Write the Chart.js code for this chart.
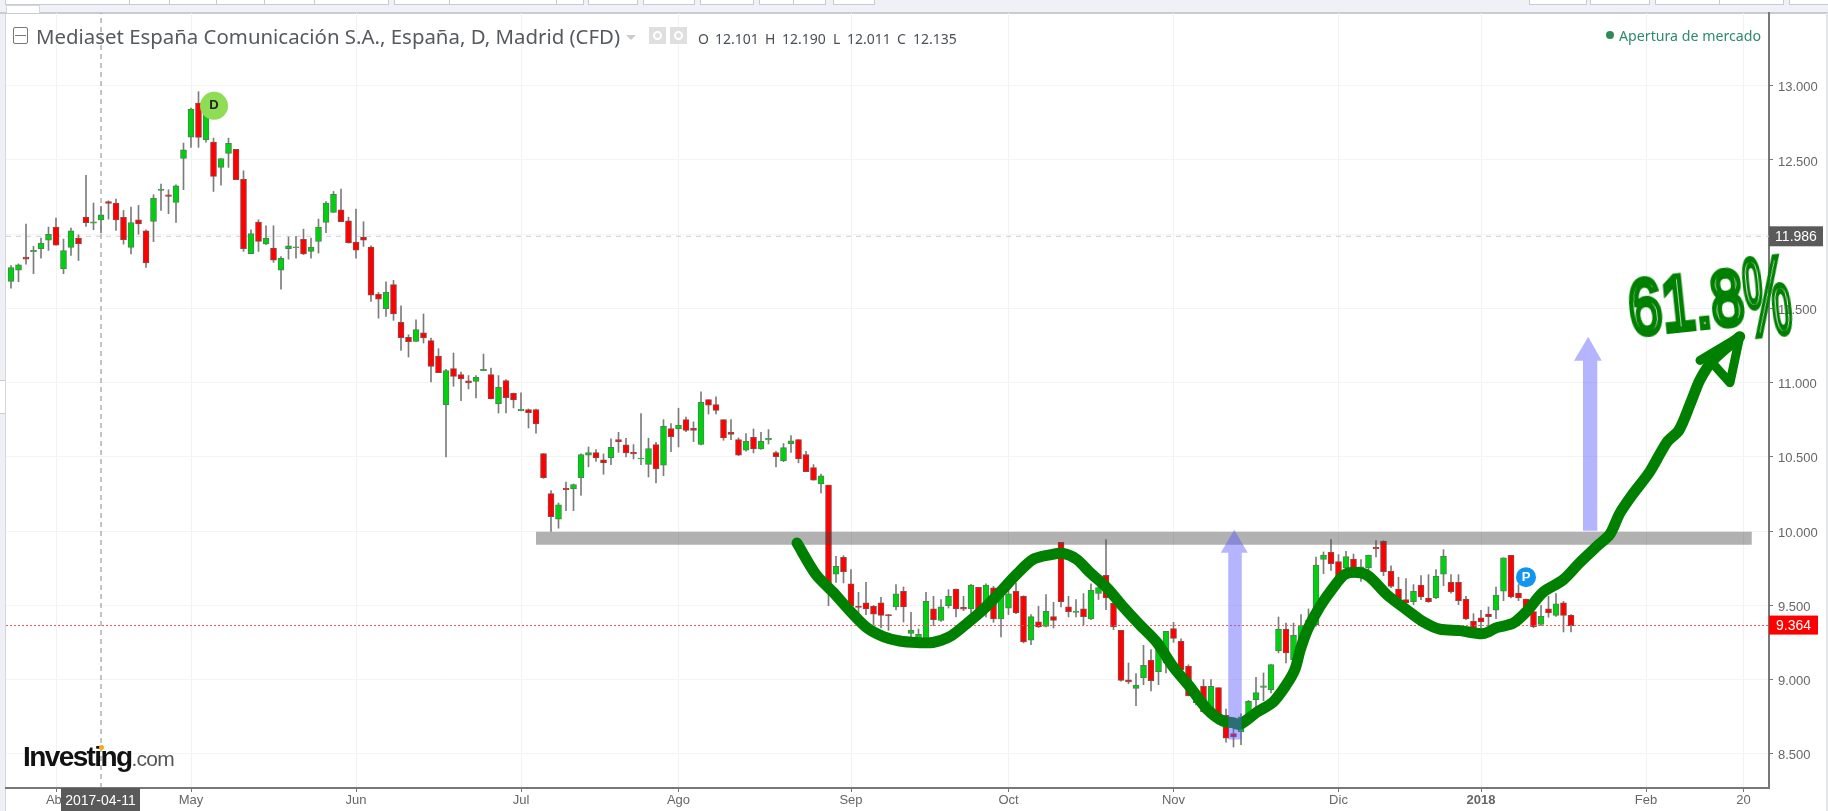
<!DOCTYPE html>
<html lang="es">
<head>
    <meta charset="UTF-8">
    <title>Mediaset España Comunicación S.A.</title>
    <script src="https://cdn.jsdelivr.net/npm/chart.js"></script>
    <style>
        html, body {
            margin: 0;
            width: 1828px;
            height: 811px;
            overflow: hidden;
            background: #ffffff;
        }
        body, div, span { position: absolute; }
        #leftStrip { left: 0; top: 0; width: 5px; height: 811px; background: #eef0f5; border-right: 1px solid #d4d6dc; }
        #leftHandle { left: 0; top: 380px; width: 5px; height: 32px; background: #fff; border-top: 1px solid #ccc; border-bottom: 1px solid #ccc; }
        #topStrip { left: 0; top: 0; width: 1828px; height: 12px; background: #f0f1f6; border-bottom: 2px solid #c9cbd2; }
        #rightEdge { left: 1826px; top: 13px; width: 2px; height: 798px; background: #e4e5ea; }
        .tool { top: 0; height: 4px; background: #fff; border: 1px solid #c8cad0; border-top: 0; box-sizing: content-box; }
        #tabUp { left: 6px; top: 5px; width: 32px; height: 7px; background: #fff; border: 1px solid #d4d6dc; border-bottom: 0; }
        canvas { position: absolute; left: 0; top: 0; }
        .head { font-family: "Noto Sans", sans-serif; white-space: nowrap; }
        #title { left: 36px; top: 22px; font-size: 20.4px; color: #56595e; }
        .ohlc { top: 29px; font-size: 14px; color: #4a5058; }
        #market { left: 1619px; top: 26px; font-size: 14.2px; color: #2e8b6a; }
        #marketDot { left: 1606px; top: 31px; width: 8px; height: 8px; border-radius: 50%; background: #2e8b57; }
        #collapse { left: 13px; top: 27px; width: 13px; height: 15px; border: 1px solid #777; border-radius: 2px; }
        #collapse i { position: absolute; left: 1px; top: 7px; width: 11px; height: 1px; background: #777; }
        #caret { left: 626px; top: 35px; width: 0; height: 0; border-left: 5px solid transparent; border-right: 5px solid transparent; border-top: 5px solid #ccc; }
        .iconBox { top: 27px; width: 17px; height: 17px; background: #dfdfdf; }
        .iconBox i { position: absolute; left: 4px; top: 4px; width: 5px; height: 5px; border: 2px solid #fff; border-radius: 50%; }
        #logo { left: 23px; top: 741px; font-family: "Liberation Sans", Arial, sans-serif; font-size: 28px; font-weight: bold; color: #111; letter-spacing: -1.6px; white-space: nowrap; }
        #logo span { position: static; font-size: 21px; font-weight: normal; color: #555; letter-spacing: -0.8px; }
        #logoDot { left: 99px; top: 745px; width: 5px; height: 5px; border-radius: 50%; background: #f9a81b; }
        #handNote {
            left: 1628px; top: 258px; font-family: "Liberation Sans", Arial, sans-serif; font-size: 78px; line-height: 78px;
            color: transparent; -webkit-text-stroke: 6px #008000; white-space: nowrap;
            transform-origin: left center; transform: rotate(-6deg) scaleX(0.76);
        }
        #handNote span {
            position: static; display: inline-block; font-size: 112px; line-height: 78px;
            transform-origin: left center; transform: scaleX(0.62) translateY(14px);
        }
    </style>
</head>
<body>
    <div id="leftStrip"></div>
    <div id="leftHandle"></div>
    <div id="topStrip"></div>
    <div id="rightEdge"></div>
    <div id="tabUp"></div>
    <canvas id="priceChart" width="1828" height="811"></canvas>

    <div id="collapse"><i></i></div>
    <div id="title" class="head">Mediaset España Comunicación S.A., España, D, Madrid (CFD)</div>
    <div id="caret"></div>
    <div class="iconBox" style="left:649px"><i></i></div>
    <div class="iconBox" style="left:670px"><i></i></div>
    <span class="head ohlc" style="left:698px">O</span><span class="head ohlc" style="left:715px">12.101</span>
    <span class="head ohlc" style="left:765px">H</span><span class="head ohlc" style="left:782px">12.190</span>
    <span class="head ohlc" style="left:833px">L</span><span class="head ohlc" style="left:847px">12.011</span>
    <span class="head ohlc" style="left:897px">C</span><span class="head ohlc" style="left:913px">12.135</span>
    <div id="marketDot"></div>
    <div id="market" class="head">Apertura de mercado</div>
    <div id="logo">Investing<span>.com</span></div>
    <div id="logoDot"></div>
    <div id="handNote">61.8<span>%</span></div>

    <script>
        // daily candles (x is the candle number)
        const opens = [
            11.682, 11.758, 11.846, 11.882, 11.902, 11.96, 12.048, 11.767, 11.911, 11.974,
            12.115, 12.075, 12.097, 12.219, 12.21, 12.113, 11.911, 12.097, 12.023, 12.086,
            12.295, 12.266, 12.214, 12.51, 12.654, 12.883, 12.636, 12.62, 12.45, 12.544,
            12.571, 12.369, 11.869, 12.082, 11.934, 11.907, 11.758, 11.902, 11.909, 11.965,
            11.884, 11.951, 12.079, 12.147, 12.165, 12.091, 11.947, 11.981, 11.913, 11.595,
            11.498, 11.66, 11.406, 11.305, 11.278, 11.335, 11.283, 11.18, 10.85, 11.095,
            11.054, 11.012, 11.009, 11.081, 11.054, 10.859, 11.014, 10.929, 10.812, 10.819,
            10.819, 10.522, 10.253, 10.08, 10.289, 10.284, 10.361, 10.511, 10.529, 10.48,
            10.495, 10.617, 10.581, 10.531, 10.486, 10.45, 10.583, 10.444, 10.691, 10.688,
            10.751, 10.693, 10.585, 10.886, 10.852, 10.751, 10.666, 10.617, 10.545, 10.632,
            10.554, 10.614, 10.529, 10.473, 10.587, 10.617, 10.516, 10.428, 10.318, 10.311,
            9.711, 9.824, 9.646, 9.496, 9.518, 9.494, 9.518, 9.438, 9.489, 9.595,
            9.312, 9.27, 9.28, 9.476, 9.399, 9.498, 9.61, 9.487, 9.476, 9.622,
            9.482, 9.619, 9.408, 9.482, 9.595, 9.561, 9.265, 9.39, 9.359, 9.424,
            9.925, 9.491, 9.453, 9.476, 9.408, 9.58, 9.702, 9.516, 9.332, 8.998,
            8.941, 9.011, 9.13, 9.054, 9.112, 9.343, 9.258, 9.09, 8.843, 8.955,
            8.798, 8.946, 8.76, 8.636, 8.647, 8.742, 8.865, 8.948, 8.933, 9.195,
            9.341, 9.135, 9.247, 9.32, 9.37, 9.81, 9.857, 9.795, 9.752, 9.812,
            9.72, 9.752, 9.891, 9.931, 9.729, 9.61, 9.539, 9.525, 9.637, 9.55,
            9.55, 9.711, 9.655, 9.655, 9.543, 9.393, 9.417, 9.442, 9.467, 9.595,
            9.837, 9.583, 9.543, 9.458, 9.372, 9.476, 9.433, 9.518, 9.433
        ];
        const closes = [
            11.776, 11.794, 11.832, 11.891, 11.94, 11.999, 11.927, 11.889, 12.023, 11.936,
            12.077, 12.084, 12.131, 12.207, 12.097, 11.963, 12.079, 12.07, 11.806, 12.241,
            12.304, 12.255, 12.326, 12.569, 12.843, 12.652, 12.827, 12.39, 12.51, 12.612,
            12.367, 11.902, 12.005, 11.952, 11.972, 11.826, 11.837, 11.922, 11.915, 11.868,
            11.913, 12.048, 12.21, 12.268, 12.084, 11.942, 11.893, 11.96, 11.59, 11.563,
            11.608, 11.464, 11.303, 11.276, 11.357, 11.301, 11.11, 11.068, 11.081, 11.043,
            11.025, 10.998, 11.036, 11.09, 10.89, 10.969, 10.899, 10.884, 10.821, 10.798,
            10.722, 10.361, 10.098, 10.177, 10.28, 10.314, 10.516, 10.529, 10.493, 10.459,
            10.565, 10.603, 10.527, 10.52, 10.491, 10.556, 10.419, 10.706, 10.637, 10.715,
            10.679, 10.679, 10.868, 10.848, 10.814, 10.628, 10.652, 10.511, 10.605, 10.554,
            10.605, 10.626, 10.502, 10.563, 10.608, 10.486, 10.401, 10.343, 10.372, 9.606,
            9.763, 9.727, 9.494, 9.487, 9.476, 9.44, 9.433, 9.429, 9.577, 9.489,
            9.334, 9.305, 9.527, 9.404, 9.491, 9.561, 9.476, 9.474, 9.637, 9.471,
            9.637, 9.408, 9.561, 9.577, 9.449, 9.254, 9.424, 9.355, 9.46, 9.399,
            9.525, 9.458, 9.462, 9.424, 9.601, 9.62, 9.55, 9.355, 8.995, 8.984,
            8.964, 9.096, 8.993, 9.2, 9.325, 9.278, 9.067, 8.892, 8.899, 8.784,
            8.955, 8.753, 8.605, 8.614, 8.75, 8.854, 8.912, 8.959, 9.101, 9.341,
            9.179, 9.298, 9.364, 9.4, 9.772, 9.839, 9.781, 9.673, 9.828, 9.752,
            9.76, 9.839, 9.88, 9.727, 9.628, 9.54, 9.516, 9.595, 9.557, 9.525,
            9.696, 9.83, 9.592, 9.532, 9.408, 9.348, 9.388, 9.424, 9.57, 9.821,
            9.557, 9.55, 9.48, 9.357, 9.426, 9.449, 9.51, 9.433, 9.364
        ];
        const highs = [
            11.788, 11.80, 12.068, 11.918, 11.974, 12.048, 12.108, 11.967, 12.041, 11.996,
            12.396, 12.21, 12.187, 12.225, 12.237, 12.16, 12.183, 12.194, 12.03, 12.266,
            12.338, 12.30, 12.333, 12.614, 12.85, 12.96, 12.85, 12.647, 12.51, 12.647,
            12.571, 12.427, 12.03, 12.097, 12.057, 12.057, 11.85, 11.981, 11.985, 12.034,
            11.974, 12.102, 12.22, 12.288, 12.304, 12.115, 12.169, 12.084, 11.922, 11.608,
            11.68, 11.689, 11.518, 11.323, 11.424, 11.463, 11.3, 11.229, 11.09, 11.2,
            11.072, 11.048, 11.048, 11.193, 11.099, 11.048, 11.021, 10.93, 10.931, 10.823,
            10.823, 10.522, 10.273, 10.19, 10.33, 10.318, 10.52, 10.567, 10.549, 10.52,
            10.621, 10.666, 10.626, 10.583, 10.792, 10.626, 10.599, 10.751, 10.724, 10.828,
            10.769, 10.736, 10.938, 10.886, 10.904, 10.751, 10.751, 10.628, 10.657, 10.688,
            10.666, 10.684, 10.538, 10.59, 10.644, 10.617, 10.538, 10.448, 10.385, 10.311,
            9.83, 9.835, 9.741, 9.588, 9.655, 9.5, 9.554, 9.438, 9.64, 9.624,
            9.453, 9.341, 9.588, 9.561, 9.539, 9.606, 9.61, 9.561, 9.642, 9.622,
            9.646, 9.628, 9.572, 9.64, 9.651, 9.565, 9.438, 9.494, 9.572, 9.521,
            9.925, 9.561, 9.539, 9.579, 9.646, 9.65, 9.943, 9.516, 9.332, 9.112,
            9.04, 9.231, 9.202, 9.24, 9.325, 9.386, 9.274, 9.1, 8.91, 9.0,
            9.0, 8.946, 8.802, 8.68, 8.77, 8.86, 9.016, 9.045, 9.101, 9.422,
            9.381, 9.381, 9.438, 9.476, 9.826, 9.86, 9.943, 9.842, 9.864, 9.846,
            9.808, 9.839, 9.936, 9.936, 9.767, 9.69, 9.68, 9.64, 9.7, 9.707,
            9.741, 9.875, 9.707, 9.707, 9.561, 9.444, 9.467, 9.489, 9.624, 9.821,
            9.837, 9.64, 9.543, 9.458, 9.5, 9.561, 9.579, 9.527, 9.438
        ];
        const lows = [
            11.637, 11.68, 11.799, 11.734, 11.839, 11.891, 11.927, 11.734, 11.857, 11.823,
            12.052, 12.03, 12.008, 12.102, 12.025, 11.933, 11.868, 12.0, 11.777, 11.95,
            12.16, 12.138, 12.08, 12.30, 12.585, 12.585, 12.62, 12.288, 12.33, 12.45,
            12.367, 11.884, 11.869, 11.884, 11.93, 11.81, 11.63, 11.832, 11.839, 11.862,
            11.839, 11.873, 12.01, 12.147, 12.084, 11.94, 11.839, 11.918, 11.547, 11.435,
            11.446, 11.42, 11.217, 11.173, 11.278, 11.267, 11.005, 11.068, 10.50, 10.976,
            10.879, 10.958, 10.897, 11.08, 10.89, 10.796, 10.796, 10.83, 10.81, 10.695,
            10.66, 10.355, 9.999, 10.02, 10.138, 10.138, 10.24, 10.433, 10.47, 10.383,
            10.448, 10.531, 10.5, 10.486, 10.448, 10.365, 10.325, 10.374, 10.536, 10.567,
            10.67, 10.603, 10.58, 10.789, 10.789, 10.612, 10.617, 10.509, 10.538, 10.527,
            10.55, 10.587, 10.433, 10.468, 10.531, 10.46, 10.40, 10.343, 10.257, 9.498,
            9.655, 9.651, 9.49, 9.42, 9.438, 9.37, 9.348, 9.332, 9.47, 9.388,
            9.29, 9.26, 9.27, 9.363, 9.392, 9.482, 9.422, 9.465, 9.449, 9.438,
            9.422, 9.386, 9.287, 9.438, 9.445, 9.247, 9.236, 9.35, 9.355, 9.348,
            9.489, 9.422, 9.422, 9.37, 9.404, 9.54, 9.471, 9.337, 8.989, 8.973,
            8.825, 8.966, 8.924, 8.966, 9.045, 9.251, 9.06, 8.89, 8.83, 8.78,
            8.775, 8.75, 8.578, 8.546, 8.562, 8.73, 8.798, 8.858, 8.91, 9.18,
            9.112, 9.1, 9.18, 9.29, 9.36, 9.714, 9.736, 9.67, 9.74, 9.74,
            9.662, 9.72, 9.826, 9.70, 9.62, 9.5, 9.5, 9.505, 9.539, 9.52,
            9.545, 9.633, 9.583, 9.505, 9.404, 9.33, 9.348, 9.359, 9.41, 9.532,
            9.55, 9.532, 9.46, 9.35, 9.364, 9.42, 9.426, 9.321, 9.321
        ];

        const priceTicks = [8.5, 9, 9.5, 10, 10.5, 11, 11.5, 12, 12.5, 13];
        const monthTicks = [6, 24, 46, 68, 89, 112, 133, 155, 177, 196, 218, 231];
        const monthLabels = ['Abr', 'May', 'Jun', 'Jul', 'Ago', 'Sep', 'Oct', 'Nov', 'Dic', '2018', 'Feb', '20'];

        const lastPrice = 9.364;
        const cursorPrice = 11.986;
        const cursorCandle = 12;
        const cursorDate = '2017-04-11';

        // hand drawn marks on top of the chart, in candle number / price
        const curveX = [104.8, 107.3, 109.6, 111.9, 114.1, 116.3, 118.5, 120.8, 122.9, 125.2, 127.5, 129.6, 131.9, 134.1, 136.3,
            138.5, 140.3, 142.1, 143.9, 146.1, 148.3, 150.5, 152.8, 154.9, 157.2, 159.5, 161.6, 162.9, 163.9, 166.1, 168.3, 170.1,
            171.2, 171.9, 172.9, 174.5, 176.3, 177.9, 179.9, 181.2, 183.5, 186.1, 188.3, 190.5, 193.2, 196.3, 198.1, 200.3, 202.1,
            204.3, 206.9, 209.2, 211.5, 213.2, 214.5, 216.1, 218.5, 220.8, 222.4, 224, 225.2, 226.9, 230.5];
        const curveY = [9.92, 9.71, 9.59, 9.46, 9.35, 9.29, 9.26, 9.25, 9.25, 9.29, 9.38, 9.47, 9.59, 9.71, 9.81,
            9.84, 9.85, 9.81, 9.72, 9.62, 9.49, 9.37, 9.25, 9.09, 8.95, 8.80, 8.72, 8.71, 8.70, 8.78, 8.85, 8.97,
            9.07, 9.20, 9.34, 9.49, 9.62, 9.71, 9.72, 9.69, 9.57, 9.47, 9.39, 9.34, 9.33, 9.31, 9.35, 9.38, 9.46,
            9.59, 9.67, 9.79, 9.90, 9.98, 10.12, 10.24, 10.40, 10.60, 10.68, 10.87, 11.02, 11.15, 11.31];
        const headX = [225.2, 230.5, 229.2, 226.9];
        const headY = [11.15, 11.31, 11.00, 11.13];
        const bandX = [70, 232.1];
        const bandPrice = 9.953;
        const arrowOneX = [162.3, 162.3, 161.3, 163.1, 164.9, 164.1, 164.1];
        const arrowOneY = [8.596, 9.855, 9.855, 10.01, 9.855, 9.855, 8.596];
        const arrowTwoX = [209.6, 209.6, 208.4, 210.3, 212.1, 211.5, 211.5];
        const arrowTwoY = [10.003, 11.148, 11.148, 11.31, 11.148, 11.148, 10.003];
        const badgeD = { x: 27.07, y: 12.865 };
        const badgeP = { x: 202, y: 9.69 };

        const candleNumbers = opens.map((_, i) => i);
        const yMin = 8.27, yMax = 13.49;
        const xMin = -0.667, xMax = 234.4;

        // toolbar pieces along the top edge
        [[5, 129], [129, 169], [169, 216], [216, 264], [264, 314], [314, 388], [394, 449], [449, 556], [556, 583], [588, 637],
         [643, 694], [700, 753], [759, 793], [793, 825], [833, 874], [1529, 1586], [1590, 1649], [1655, 1719], [1719, 1783], [1789, 1828]]
            .forEach(p => {
                const d = document.createElement('div');
                d.className = 'tool';
                d.style.left = p[0] + 'px';
                d.style.width = (p[1] - p[0] - 1) + 'px';
                document.getElementById('topStrip').appendChild(d);
            });

        const overlayPlugin = {
            id: 'overlay',
            afterDatasetsDraw(chart) {
                const c = chart.ctx, x = chart.scales.x, y = chart.scales.y;
                const polygon = (xs, ys, color) => {
                    c.save();
                    c.fillStyle = color;
                    c.beginPath();
                    xs.forEach((v, i) => c.lineTo(x.getPixelForValue(v), y.getPixelForValue(ys[i])));
                    c.closePath();
                    c.fill();
                    c.restore();
                };
                polygon(arrowOneX, arrowOneY, 'rgba(90, 90, 255, 0.45)');
                polygon(arrowTwoX, arrowTwoY, 'rgba(90, 90, 255, 0.45)');

                const badge = (b, radius, color, text, textColor) => {
                    const px = x.getPixelForValue(b.x), py = y.getPixelForValue(b.y);
                    c.save();
                    c.fillStyle = color;
                    c.beginPath();
                    c.arc(px, py, radius, 0, Math.PI * 2);
                    c.fill();
                    c.fillStyle = textColor;
                    c.font = 'bold 13px "Liberation Sans", Arial, sans-serif';
                    c.textAlign = 'center';
                    c.textBaseline = 'middle';
                    c.fillText(text, px, py);
                    c.restore();
                };
                badge(badgeD, 14, '#8fdc55', 'D', '#222');
                badge(badgeP, 10, '#1095f0', 'P', '#fff');
            },
            afterDraw(chart) {
                const c = chart.ctx, x = chart.scales.x, y = chart.scales.y;
                const tag = (text, left, top, w, h, color) => {
                    c.save();
                    c.fillStyle = color;
                    c.fillRect(left, top, w, h);
                    c.fillStyle = '#fff';
                    c.font = '14px "Liberation Sans", Arial, sans-serif';
                    c.textAlign = 'center';
                    c.textBaseline = 'middle';
                    c.fillText(text, left + w / 2, top + h / 2 + 1);
                    c.restore();
                };
                const right = chart.chartArea.right;
                tag(cursorPrice.toFixed(3), right, y.getPixelForValue(cursorPrice) - 10, 54, 20, '#5a5a5a');
                tag(lastPrice.toFixed(3), right, y.getPixelForValue(lastPrice) - 10, 49, 19, '#ff0000');
                tag(cursorDate, x.getPixelForValue(cursorCandle) - 40, chart.chartArea.bottom, 79, 24, '#5a5a5a');
            }
        };

        const hLine = (price, color, dash, width, order) => ({
            type: 'line',
            data: [{ x: xMin, y: price }, { x: xMax, y: price }],
            borderColor: color,
            borderDash: dash,
            borderWidth: width,
            pointRadius: 0,
            order: order
        });

        new Chart(document.getElementById('priceChart').getContext('2d'), {
            data: {
                datasets: [
                    hLine(cursorPrice, '#cfcfcf', [5, 5], 1, 10),
                    {
                        type: 'line',
                        data: [{ x: cursorCandle, y: yMin }, { x: cursorCandle, y: yMax }],
                        borderColor: '#8a8a8a',
                        borderDash: [5, 4],
                        borderWidth: 1,
                        pointRadius: 0,
                        order: 9
                    },
                    {
                        type: 'bar',
                        data: candleNumbers.map(i => ({ x: i, y: [lows[i], highs[i]] })),
                        backgroundColor: '#7c7c7c',
                        barThickness: 1,
                        grouped: false,
                        order: 8
                    },
                    {
                        type: 'bar',
                        data: candleNumbers.map(i => ({ x: i, y: [opens[i], closes[i]] })),
                        backgroundColor: candleNumbers.map(i => closes[i] >= opens[i] ? '#00d010' : '#ff0000'),
                        borderColor: candleNumbers.map(i => closes[i] >= opens[i] ? '#4f7f55' : '#8a4a4a'),
                        borderWidth: 1,
                        borderSkipped: false,
                        barThickness: 6,
                        grouped: false,
                        order: 7
                    },
                    hLine(lastPrice, '#f25555', [2, 2], 1, 6),
                    {
                        type: 'line',
                        data: bandX.map(v => ({ x: v, y: bandPrice })),
                        borderColor: 'rgba(70, 70, 70, 0.42)',
                        borderWidth: 13,
                        pointRadius: 0,
                        order: 5
                    },
                    {
                        type: 'line',
                        data: curveX.map((v, i) => ({ x: v, y: curveY[i] })),
                        borderColor: '#008000',
                        borderWidth: 11,
                        borderCapStyle: 'round',
                        borderJoinStyle: 'round',
                        tension: 0.3,
                        pointRadius: 0,
                        order: 4
                    },
                    {
                        type: 'line',
                        data: headX.map((v, i) => ({ x: v, y: headY[i] })),
                        borderColor: '#008000',
                        borderWidth: 9,
                        borderCapStyle: 'round',
                        borderJoinStyle: 'round',
                        pointRadius: 0,
                        order: 4
                    }
                ]
            },
            options: {
                responsive: false,
                animation: false,
                events: [],
                layout: { padding: { left: 6, top: 13, right: 0, bottom: 0 } },
                plugins: {
                    legend: { display: false },
                    tooltip: { enabled: false },
                    title: { display: false }
                },
                scales: {
                    x: {
                        type: 'linear',
                        offset: false,
                        min: xMin,
                        max: xMax,
                        afterFit(scale) { scale.height = 23; },
                        afterBuildTicks(axis) { axis.ticks = monthTicks.map(v => ({ value: v })); },
                        grid: { offset: false, color: '#f2f2f2', tickColor: '#777', tickLength: 4 },
                        border: { color: '#777', width: 2 },
                        ticks: {
                            autoSkip: false,
                            maxRotation: 0,
                            padding: 1,
                            color: '#666',
                            font: ctx => ({
                                family: '"Liberation Sans", Arial, sans-serif',
                                size: 13,
                                weight: ctx.tick && monthLabels[monthTicks.indexOf(ctx.tick.value)] === '2018' ? 'bold' : 'normal'
                            }),
                            callback: v => monthLabels[monthTicks.indexOf(v)]
                        }
                    },
                    y: {
                        position: 'right',
                        min: yMin,
                        max: yMax,
                        afterFit(scale) { scale.width = 59; },
                        afterBuildTicks(axis) { axis.ticks = priceTicks.map(v => ({ value: v })); },
                        grid: { color: '#f4f4f4', tickColor: '#777', tickLength: 4 },
                        border: { color: '#777', width: 2 },
                        ticks: {
                            padding: 5,
                            labelOffset: 2,
                            color: '#666',
                            font: { family: '"Liberation Sans", Arial, sans-serif', size: 13 },
                            callback: v => v.toFixed(3)
                        }
                    }
                }
            },
            plugins: [overlayPlugin]
        });
    </script>
</body>
</html>
